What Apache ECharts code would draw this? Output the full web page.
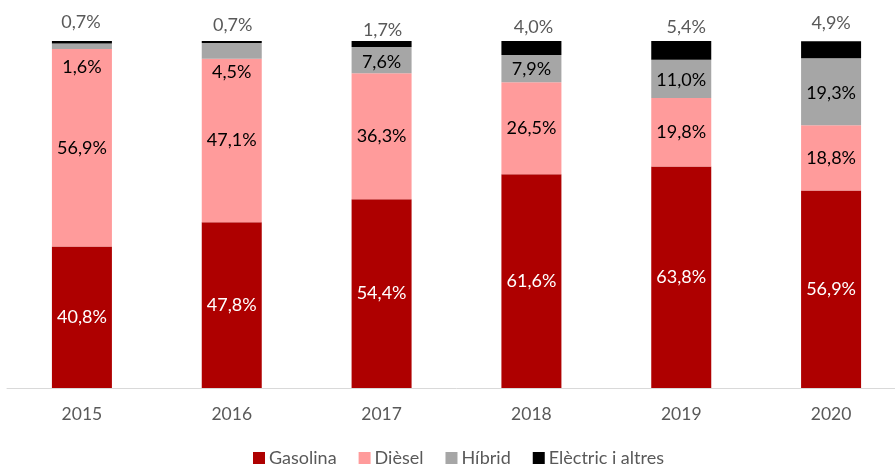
<!DOCTYPE html>
<html>
<head>
<meta charset="utf-8">
<script src="https://cdn.jsdelivr.net/npm/echarts@6/dist/echarts.min.js"></script>
<style>html,body{margin:0;padding:0;background:#fff;overflow:hidden;width:895px;height:464px}#c{width:906px;height:464px}</style>
</head>
<body>
<div id="c"></div>
<script>
const years = ['2015','2016','2017','2018','2019','2020'];
const gasolina = [40.8, 47.8, 54.4, 61.6, 63.8, 56.9];
const diesel   = [56.9, 47.1, 36.3, 26.5, 19.8, 18.8];
const hibrid   = [1.6, 4.5, 7.6, 7.9, 11.0, 19.3];
const electric = [0.7, 0.7, 1.7, 4.0, 5.4, 4.9];
const seriesNames = ['Gasolina','Dièsel','Híbrid','Elèctric i altres'];

// label nudges (layout only)
const hibridLabelOffset = [[0,21],[0,21],[0,2],[0,1],[0,1],[0,1]];
const electricLabelOffset = [[-1,-5],[1,-2],[1,3],[2,0],[5,0],[0,-4]];

const FONT = 'Lato';
const LABEL_SIZE = 18;
const fmt = p => p.value.toFixed(1).replace('.', ',') + '%';

function items(vals, offs){
  return vals.map((v,i)=> offs ? {value:v, label:{offset:offs[i]}} : v);
}

const chart = echarts.init(document.getElementById('c'), null, {renderer:'canvas'});
chart.setOption({
  animation:false,
  textStyle:{fontFamily:FONT},
  grid:{left:7, top:41, right:0, height:347, containLabel:false},
  legend:{
    data:seriesNames, top:449, left:253, padding:0,
    itemWidth:12, itemHeight:12, itemGap:22, icon:'rect',
    textStyle:{fontFamily:FONT, fontSize:18, color:'#595959', padding:[0,0,0,-1]}
  },
  xAxis:{
    type:'category', data:years,
    axisLine:{lineStyle:{color:'#D9D9D9', width:1}},
    axisTick:{show:false},
    axisLabel:{fontFamily:FONT, fontSize:17.5, color:'#595959', margin:17}
  },
  yAxis:{type:'value', min:0, max:100, show:false, splitLine:{show:false}},
  series:[
    {name:seriesNames[0], type:'bar', stack:'a', barWidth:60, data:items(gasolina),
     itemStyle:{color:'#AE0000'},
     label:{show:true, position:'inside', formatter:fmt, color:'#FFFFFF', fontFamily:FONT, fontSize:LABEL_SIZE}},
    {name:seriesNames[1], type:'bar', stack:'a', barWidth:60, data:items(diesel),
     itemStyle:{color:'#FF9B9B'},
     label:{show:true, position:'inside', formatter:fmt, color:'#000000', fontFamily:FONT, fontSize:LABEL_SIZE}},
    {name:seriesNames[2], type:'bar', stack:'a', barWidth:60, data:items(hibrid, hibridLabelOffset),
     itemStyle:{color:'#A6A6A6'},
     label:{show:true, position:'inside', formatter:fmt, color:'#000000', fontFamily:FONT, fontSize:LABEL_SIZE}},
    {name:seriesNames[3], type:'bar', stack:'a', barWidth:60, data:items(electric, electricLabelOffset),
     itemStyle:{color:'#000000'},
     label:{show:true, position:'top', distance:5, formatter:fmt, color:'#595959', fontFamily:FONT, fontSize:LABEL_SIZE}}
  ]
});
</script>
</body>
</html>
